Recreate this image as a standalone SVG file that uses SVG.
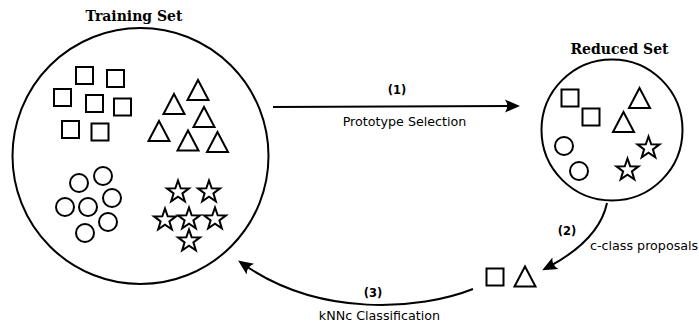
<svg xmlns="http://www.w3.org/2000/svg" width="699" height="322" viewBox="0 0 699 322">
<style>
.s{fill:none;stroke:#000;stroke-width:2}
.c{fill:none;stroke:#000;stroke-width:2}
.title{font-family:"DejaVu Serif",serif;font-weight:bold;font-size:14px;text-anchor:middle}
.lb{font-family:"DejaVu Sans",sans-serif;font-weight:bold;font-size:11.5px;text-anchor:middle}
.lt{font-family:"DejaVu Sans",sans-serif;font-size:12.7px}
.edge{fill:none;stroke:#000;stroke-width:2}
</style>
<defs>
<marker id="ah" markerUnits="userSpaceOnUse" viewBox="-17 -8 20 16" markerWidth="20" markerHeight="16" refX="-6" refY="0" orient="auto">
<path d="M0,0 L-15,-6.5 Q-10.5,0 -15,6.5 Z" fill="#000"/>
</marker>
<rect id="sq" width="17" height="17" class="s"/>
<path id="tri" d="M0,0 L10.5,20 L-10.5,20 Z" class="s" stroke-linejoin="miter"/>
<circle id="ci" r="9" class="s"/>
<path id="st" d="M0,-11.5 L2.7,-3.7 L11,-3.6 L4.4,1.4 L6.8,9.3 L0,4.6 L-6.8,9.3 L-4.4,1.4 L-11,-3.6 L-2.7,-3.7 Z" class="c" stroke-linejoin="miter"/>
</defs>
<g id="training">
<text class="title" x="134" y="21">Training Set</text>
<circle cx="140.5" cy="156" r="128" class="s"/>
<use href="#sq" x="76" y="67"/>
<use href="#sq" x="107" y="70"/>
<use href="#sq" x="54" y="89"/>
<use href="#sq" x="86" y="95"/>
<use href="#sq" x="114" y="98.5"/>
<use href="#sq" x="62" y="121"/>
<use href="#sq" x="91.5" y="123.5"/>
<use href="#tri" x="198" y="80"/>
<use href="#tri" x="174" y="94"/>
<use href="#tri" x="204" y="107"/>
<use href="#tri" x="159" y="121"/>
<use href="#tri" x="188" y="130.5"/>
<use href="#tri" x="217.5" y="132"/>
<use href="#ci" x="79" y="183"/>
<use href="#ci" x="103" y="176"/>
<use href="#ci" x="112" y="198"/>
<use href="#ci" x="65" y="207"/>
<use href="#ci" x="88" y="207"/>
<use href="#ci" x="108" y="222"/>
<use href="#ci" x="85" y="233"/>
<use href="#st" x="178" y="192"/>
<use href="#st" x="209" y="192"/>
<use href="#st" x="165" y="220"/>
<use href="#st" x="189" y="219"/>
<use href="#st" x="215" y="219"/>
<use href="#st" x="189" y="241"/>
</g>
<g id="reduced">
<text class="title" x="619.5" y="54">Reduced Set</text>
<circle cx="612" cy="130" r="70.5" class="s"/>
<use href="#sq" x="561.5" y="89.5"/>
<use href="#sq" x="582.5" y="108.5"/>
<use href="#tri" x="639.5" y="88"/>
<use href="#tri" x="623.5" y="112"/>
<use href="#ci" x="564" y="146"/>
<use href="#ci" x="579" y="171"/>
<use href="#st" x="648.5" y="148"/>
<use href="#st" x="627.5" y="170"/>
</g>
<g id="proposals">
<use href="#sq" x="486.5" y="268.5"/>
<use href="#tri" x="525" y="266.5"/>
</g>
<g id="connectors">
<path class="edge" d="M273,107 L514,106" marker-end="url(#ah)"/>
<path class="edge" d="M607,203 C603,222 590,245 547.5,267.5" marker-end="url(#ah)"/>
<path class="edge" d="M473,289 C420,310 320,318 243,264" marker-end="url(#ah)"/>
</g>
<g id="labels">
<text class="lb" x="397" y="94">(1)</text>
<text class="lt" x="404.5" y="126" text-anchor="middle">Prototype Selection</text>
<text class="lb" x="567" y="235">(2)</text>
<text class="lt" x="590" y="250">c-class proposals</text>
<text class="lb" x="373" y="297">(3)</text>
<text class="lt" x="379.5" y="320" text-anchor="middle">kNNc Classification</text>
</g>
</svg>
